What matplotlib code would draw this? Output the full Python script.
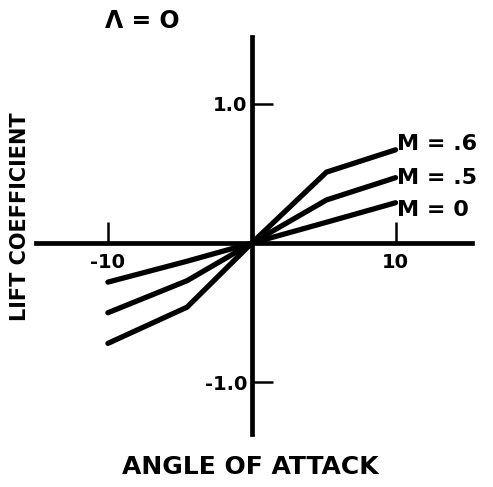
import matplotlib.pyplot as plt

# lift curves, sweep angle zero
alpha = [-10, -4.5, 0, 5.2, 10]
cl_m0 = [-0.28, -0.13, 0, 0.15, 0.29]
cl_m05 = [-0.50, -0.27, 0, 0.31, 0.47]
cl_m06 = [-0.72, -0.46, 0, 0.51, 0.67]
curve_labels = ['M = 0', 'M = .5', 'M = .6']
label_y = [0.24, 0.47, 0.71]

plt.rcParams['font.family'] = ['DejaVu Sans']
plt.rcParams['font.weight'] = 'bold'

fig = plt.figure(figsize=(4.93, 4.87), dpi=100)
ax = fig.add_axes([0.073, 0.109, 0.884, 0.815])

for cl in [cl_m0, cl_m05, cl_m06]:
    ax.plot(alpha, cl, color='black', linewidth=3.8, solid_capstyle='round', solid_joinstyle='round')

for lab, yy in zip(curve_labels, label_y):
    ax.text(10.1, yy, lab, fontsize=16, ha='left', va='center')

ax.set_xlim(-15, 15.3)
ax.set_ylim(-1.37, 1.48)

ax.spines['left'].set_position('zero')
ax.spines['bottom'].set_position('zero')
ax.spines['right'].set_visible(False)
ax.spines['top'].set_visible(False)
ax.spines['left'].set_linewidth(3.4)
ax.spines['bottom'].set_linewidth(3.4)

ax.set_xticks([-10, 10])
ax.set_xticklabels(['-10', '10'])
ax.set_yticks([-1.0, 1.0])
ax.set_yticklabels(['-1.0', '1.0'])
ax.tick_params(axis='both', direction='in', length=15, width=1.8, labelsize=14)
ax.tick_params(axis='x', pad=7)
ax.tick_params(axis='y', pad=3)

fig.text(0.040, 0.555, 'LIFT COEFFICIENT', rotation=90, fontsize=15, ha='center', va='center')
fig.text(0.507, 0.041, 'ANGLE OF ATTACK', fontsize=18, ha='center', va='center')
fig.text(0.213, 0.957, 'Λ = O', fontsize=17, ha='left', va='center')

fig.savefig('out.png', dpi=100)
